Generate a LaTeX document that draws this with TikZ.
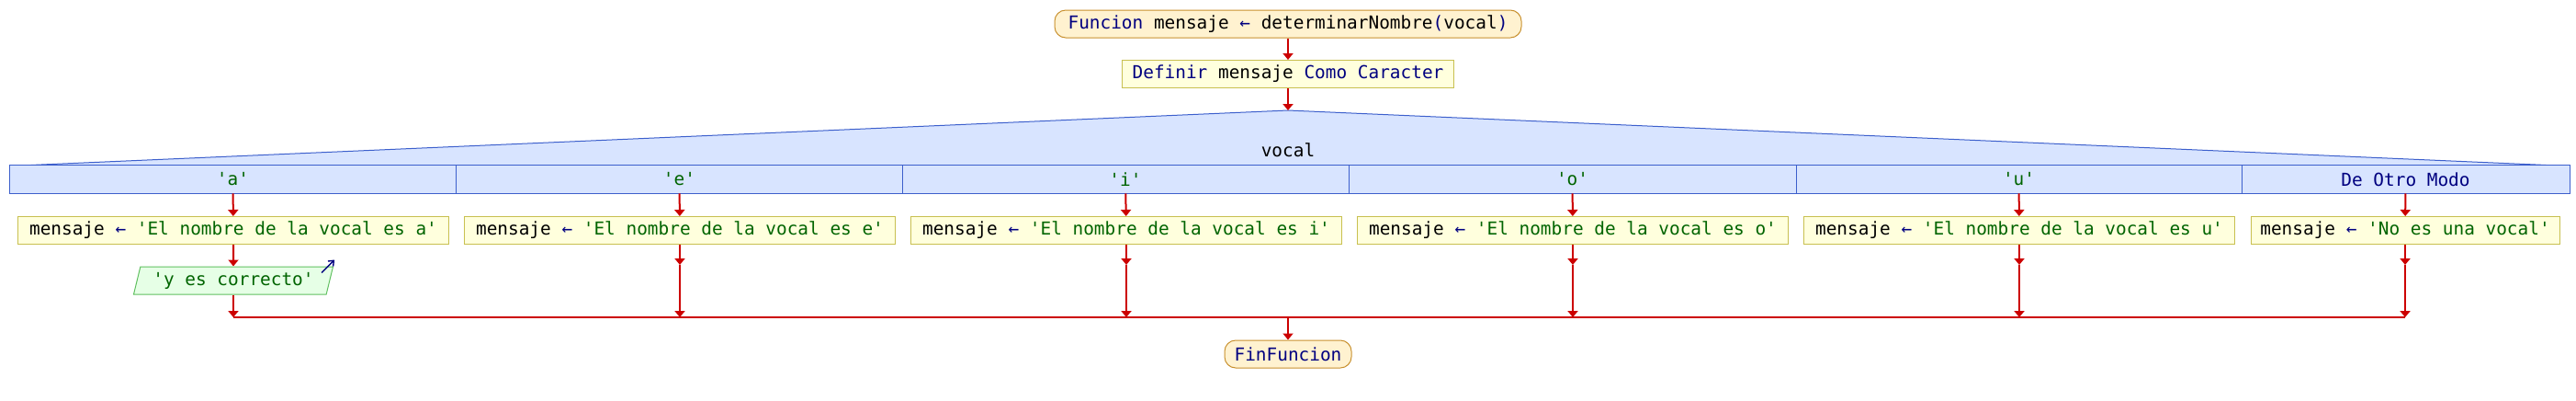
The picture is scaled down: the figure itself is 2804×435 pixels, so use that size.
\documentclass[tikz,border=0pt]{standalone}
\usepackage{fontspec}
\setmonofont{DejaVu Sans Mono}
\usepackage{xcolor}
\usepackage{tikz}
\usetikzlibrary{arrows.meta,shapes.geometric,calc}
\definecolor{kwnavy}{HTML}{000080}
\definecolor{strgreen}{HTML}{006400}
\definecolor{flowred}{HTML}{CC0000}
\definecolor{termfill}{HTML}{FFF2D0}
\definecolor{termline}{HTML}{C8902E}
\definecolor{procfill}{HTML}{FFFFDD}
\definecolor{procline}{HTML}{C8C050}
\definecolor{casefill}{HTML}{D8E4FF}
\definecolor{caseline}{HTML}{3C5FCC}
\definecolor{outfill}{HTML}{E6FFE6}
\definecolor{outborder}{HTML}{60C060}
\newcommand{\psefont}{\fontsize{9.7}{11}\selectfont\ttfamily}
\newcommand{\kw}[1]{\textcolor{kwnavy}{#1}}
\newcommand{\strg}[1]{\textcolor{strgreen}{#1}}
\newcommand{\asig}{\kw{←}}
\tikzset{
  termbox/.style={
    rectangle, rounded corners=6pt, draw=termline, fill=termfill,
    line width=0.5pt, minimum width=#1, minimum height=15pt,
    inner sep=0pt, font=\psefont
  },
  procbox/.style={
    rectangle, draw=procline, fill=procfill, line width=0.5pt,
    minimum width=#1, minimum height=15pt,
    inner sep=0pt, font=\psefont
  },
  procbox/.default=234.5pt,
  casecell/.style={
    rectangle, fill=casefill,
    minimum width=#1, minimum height=15pt,
    inner sep=0pt, font=\psefont
  },
  casecell/.default=243pt,
  outbox/.style={
    trapezium, trapezium left angle=68, trapezium right angle=112,
    trapezium stretches body, draw=outborder, fill=outfill,
    line width=0.5pt, minimum width=108.5pt, minimum height=15pt,
    inner sep=0pt, font=\psefont
  },
  flowarrow/.style={
    -{Triangle[width=5.5pt,length=3.5pt]}, draw=flowred, line width=1pt
  },
  outmark/.style={
    -{Straight Barb[length=2.5pt,width=4pt]}, draw=kwnavy, line width=0.7pt
  },
}
\begin{document}
\begin{tikzpicture}[x=0.5pt, y=-0.5pt]
  \useasboundingbox (0,0) rectangle (2804,435);

  % inicio y definicion
  \node[termbox=254pt] (inicio) at (1402,26)
    {\kw{Funcion} mensaje \asig{} determinarNombre\kw{(}vocal\kw{)}};
  \node[procbox=180.5pt] (definir) at (1402,80.5)
    {\kw{Definir} mensaje \kw{Como Caracter}};

  % segun
  \coordinate (apex) at (1402,120);
  \filldraw[draw=caseline, fill=casefill, line width=0.5pt]
    (22,180) -- (apex) -- (2783,180);
  \node[font=\psefont] (vocal) at (1402,163) {vocal};
  \node[casecell] (caseA) at (253.5,195) {\strg{'a'}};
  \node[casecell=242.5pt] (caseE) at (739.5,195) {\strg{'e'}};
  \node[casecell] (caseI) at (1225,195) {\strg{'i'}};
  \node[casecell=243.5pt] (caseO) at (1711.5,195) {\strg{'o'}};
  \node[casecell=242.5pt] (caseU) at (2197.5,195) {\strg{'u'}};
  \node[casecell=178.5pt] (caseD) at (2618.5,195) {\kw{De Otro Modo}};
  \draw[caseline, line width=0.5pt] (caseA.north west) rectangle (caseD.south east);
  \foreach \c in {A, E, I, O, U}
    \draw[caseline, line width=0.5pt] (case\c.north east) -- (case\c.south east);

  % asignaciones
  \node[procbox] (asigA) at (254,250.5)
    {mensaje \asig{} \strg{'El nombre de la vocal es a'}};
  \node[procbox] (asigE) at (740,250.5)
    {mensaje \asig{} \strg{'El nombre de la vocal es e'}};
  \node[procbox] (asigI) at (1226,250.5)
    {mensaje \asig{} \strg{'El nombre de la vocal es i'}};
  \node[procbox] (asigO) at (1712,250.5)
    {mensaje \asig{} \strg{'El nombre de la vocal es o'}};
  \node[procbox] (asigU) at (2198,250.5)
    {mensaje \asig{} \strg{'El nombre de la vocal es u'}};
  \node[procbox=168pt] (asigD) at (2618,250.5)
    {mensaje \asig{} \strg{'No es una vocal'}};

  \node[outbox] (salida) at (254,305) {\strg{'y es correcto'}};
  \draw[outmark] ([shift={(-13,7)}]salida.top right corner) -- ++(14,-14);

  % puntos de union
  \foreach \c/\x in {A/254, E/740, I/1226, O/1712, U/2198, D/2618} {
    \coordinate (m\c) at (\x,288);
    \coordinate (j\c) at (\x,345);
  }
  \coordinate (jmid) at (1402,345);
  \node[termbox=69pt] (fin) at (1402,385) {\kw{FinFuncion}};

  % flechas
  \draw[flowarrow] (inicio) -- (definir);
  \draw[flowarrow] (definir) -- (apex);
  \foreach \c in {A, E, I, O, U, D}
    \draw[flowarrow] (case\c) -- (asig\c);
  \draw[flowarrow] (asigA) -- (salida);
  \draw[flowarrow] (salida) -- (jA);
  \foreach \c in {E, I, O, U, D} {
    \draw[flowarrow] (asig\c) -- (m\c);
    \draw[flowarrow] (m\c) -- (j\c);
  }
  \draw[draw=flowred, line width=1pt] (jA) -- (jD);
  \draw[flowarrow] (jmid) -- (fin);
\end{tikzpicture}
\end{document}
